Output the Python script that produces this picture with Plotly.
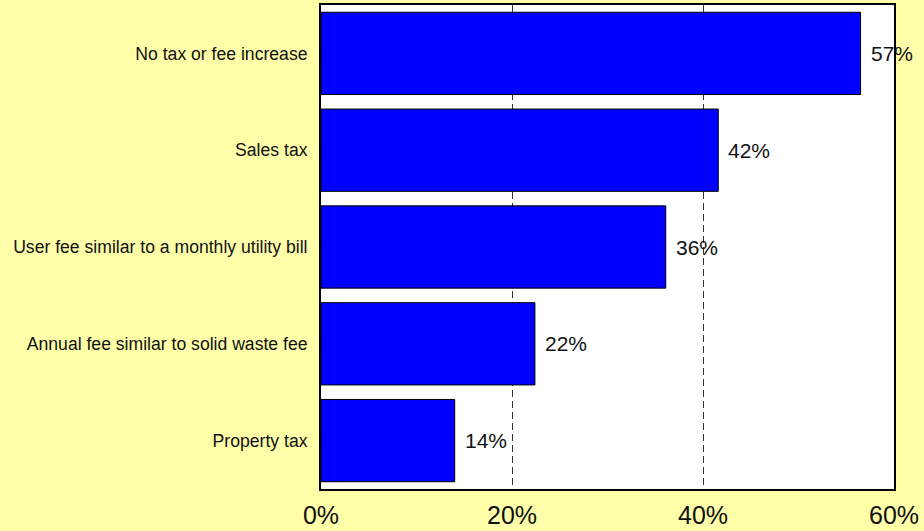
import plotly.graph_objects as go

categories = [
    "No tax or fee increase",
    "Sales tax",
    "User fee similar to a monthly utility bill",
    "Annual fee similar to solid waste fee",
    "Property tax",
]
values = [56.5, 41.6, 36.1, 22.4, 14.0]
value_labels = ["57%", "42%", "36%", "22%", "14%"]
tick_vals = [0, 20, 40, 60]
tick_text = ["0%", "20%", "40%", "60%"]

BG = "#FFFFAA"

fig = go.Figure()
fig.add_trace(go.Bar(
    x=values,
    y=categories,
    orientation="h",
    marker=dict(color="#0000FF", line=dict(color="#000000", width=1)),
    hoverinfo="skip",
))

for v, c, t in zip(values, categories, value_labels):
    fig.add_annotation(
        x=v, y=c, text=t, showarrow=False, xanchor="left", yanchor="middle",
        xshift=8, font=dict(family="Liberation Sans, Arial", size=21, color="#111111"),
    )

fig.update_layout(
    width=924, height=531,
    paper_bgcolor=BG,
    plot_bgcolor="#FFFFFF",
    margin=dict(l=321, r=30, t=5, b=42, autoexpand=False),
    bargap=0.15,
    showlegend=False,
    font=dict(family="Liberation Sans, Arial", color="#111111"),
)
fig.update_xaxes(
    range=[0, 60],
    tickvals=tick_vals,
    ticktext=tick_text,
    tickfont=dict(size=25),
    showgrid=True,
    gridcolor="#333333",
    gridwidth=1,
    griddash="7px,4px",
    zeroline=False,
    showline=True,
    linecolor="#000000",
    linewidth=2,
    mirror=True,
    ticks="",
    ticklabelstandoff=3,
    automargin=False,
)
fig.update_yaxes(
    autorange="reversed",
    tickfont=dict(size=17.6),
    showgrid=False,
    zeroline=False,
    showline=True,
    linecolor="#000000",
    linewidth=2,
    mirror=True,
    ticks="",
    ticklabelstandoff=8,
    automargin=False,
)

fig.write_html(
    "out.html",
    config={"displayModeBar": False},
    post_script="document.body.style.margin='0';document.body.style.overflow='hidden';"
                "document.body.style.background='" + BG + "';",
)
